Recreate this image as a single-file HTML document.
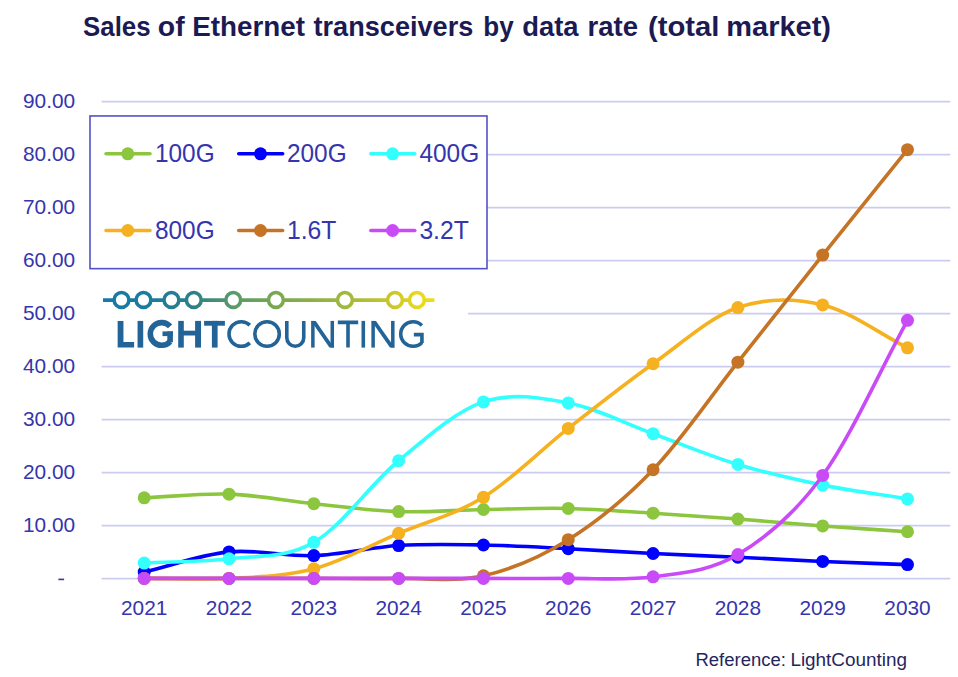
<!DOCTYPE html>
<html><head><meta charset="utf-8"><title>Sales of Ethernet transceivers by data rate</title>
<style>html,body{margin:0;padding:0;background:#fff;}body{width:958px;height:677px;overflow:hidden;font-family:"Liberation Sans",sans-serif;}svg{display:block;}text{font-family:"Liberation Sans",sans-serif;}</style>
</head><body>
<svg width="958" height="677" viewBox="0 0 958 677">
<rect width="958" height="677" fill="#ffffff"/>
<g font-weight="bold" font-size="26.8" fill="#1b1a52">
<text x="83.0" y="36" textLength="67.6" lengthAdjust="spacingAndGlyphs">Sales</text>
<text x="157.8" y="36" textLength="26.8" lengthAdjust="spacingAndGlyphs">of</text>
<text x="192.3" y="36" textLength="112.7" lengthAdjust="spacingAndGlyphs">Ethernet</text>
<text x="313.5" y="36" textLength="159.8" lengthAdjust="spacingAndGlyphs">transceivers</text>
<text x="483.3" y="36" textLength="30.4" lengthAdjust="spacingAndGlyphs">by</text>
<text x="522.2" y="36" textLength="56.4" lengthAdjust="spacingAndGlyphs">data</text>
<text x="587.5" y="36" textLength="50.5" lengthAdjust="spacingAndGlyphs">rate</text>
<text x="648.0" y="36" textLength="71.5" lengthAdjust="spacingAndGlyphs">(total</text>
<text x="726.3" y="36" textLength="104.7" lengthAdjust="spacingAndGlyphs">market)</text>
</g>
<line x1="101.6" x2="950.3" y1="578.60" y2="578.60" stroke="#ccccf1" stroke-width="1.6"/>
<line x1="101.6" x2="950.3" y1="525.60" y2="525.60" stroke="#ccccf1" stroke-width="1.6"/>
<line x1="101.6" x2="950.3" y1="472.60" y2="472.60" stroke="#ccccf1" stroke-width="1.6"/>
<line x1="101.6" x2="950.3" y1="419.60" y2="419.60" stroke="#ccccf1" stroke-width="1.6"/>
<line x1="101.6" x2="950.3" y1="366.60" y2="366.60" stroke="#ccccf1" stroke-width="1.6"/>
<line x1="101.6" x2="950.3" y1="313.60" y2="313.60" stroke="#ccccf1" stroke-width="1.6"/>
<line x1="101.6" x2="950.3" y1="260.60" y2="260.60" stroke="#ccccf1" stroke-width="1.6"/>
<line x1="101.6" x2="950.3" y1="207.60" y2="207.60" stroke="#ccccf1" stroke-width="1.6"/>
<line x1="101.6" x2="950.3" y1="154.60" y2="154.60" stroke="#ccccf1" stroke-width="1.6"/>
<line x1="101.6" x2="950.3" y1="101.60" y2="101.60" stroke="#ccccf1" stroke-width="1.6"/>
<g font-size="20.8" fill="#3535ad">
<text x="23" y="531.70" textLength="52.2" lengthAdjust="spacingAndGlyphs">10.00</text>
<text x="23" y="478.70" textLength="52.2" lengthAdjust="spacingAndGlyphs">20.00</text>
<text x="23" y="425.70" textLength="52.2" lengthAdjust="spacingAndGlyphs">30.00</text>
<text x="23" y="372.70" textLength="52.2" lengthAdjust="spacingAndGlyphs">40.00</text>
<text x="23" y="319.70" textLength="52.2" lengthAdjust="spacingAndGlyphs">50.00</text>
<text x="23" y="266.70" textLength="52.2" lengthAdjust="spacingAndGlyphs">60.00</text>
<text x="23" y="213.70" textLength="52.2" lengthAdjust="spacingAndGlyphs">70.00</text>
<text x="23" y="160.70" textLength="52.2" lengthAdjust="spacingAndGlyphs">80.00</text>
<text x="23" y="107.70" textLength="52.2" lengthAdjust="spacingAndGlyphs">90.00</text>
</g>
<rect x="58.4" y="578.6" width="5.7" height="1.6" fill="#3535ad"/>
<g font-size="20.4" fill="#3535ad" text-anchor="middle">
<text x="144.20" y="614.7" textLength="46.4" lengthAdjust="spacingAndGlyphs">2021</text>
<text x="229.01" y="614.7" textLength="46.4" lengthAdjust="spacingAndGlyphs">2022</text>
<text x="313.82" y="614.7" textLength="46.4" lengthAdjust="spacingAndGlyphs">2023</text>
<text x="398.63" y="614.7" textLength="46.4" lengthAdjust="spacingAndGlyphs">2024</text>
<text x="483.44" y="614.7" textLength="46.4" lengthAdjust="spacingAndGlyphs">2025</text>
<text x="568.25" y="614.7" textLength="46.4" lengthAdjust="spacingAndGlyphs">2026</text>
<text x="653.06" y="614.7" textLength="46.4" lengthAdjust="spacingAndGlyphs">2027</text>
<text x="737.87" y="614.7" textLength="46.4" lengthAdjust="spacingAndGlyphs">2028</text>
<text x="822.68" y="614.7" textLength="46.4" lengthAdjust="spacingAndGlyphs">2029</text>
<text x="907.49" y="614.7" textLength="46.4" lengthAdjust="spacingAndGlyphs">2030</text>
</g>
<rect x="95" y="283" width="373" height="72" fill="#ffffff"/>
<path d="M144.20 497.84 C172.47 496.60 200.74 493.16 229.01 494.13 C257.28 495.10 285.55 500.75 313.82 503.67 C342.09 506.58 370.36 510.65 398.63 511.62 C426.90 512.59 455.17 510.03 483.44 509.50 C511.71 508.97 539.98 507.82 568.25 508.44 C596.52 509.06 624.79 511.44 653.06 513.21 C681.33 514.98 709.60 516.92 737.87 519.04 C766.14 521.16 794.41 523.81 822.68 525.93 C850.95 528.05 879.22 529.82 907.49 531.76" fill="none" stroke="#8cc63f" stroke-width="3.6" stroke-linecap="round" stroke-linejoin="round"/>
<g fill="#8cc63f"><circle cx="144.20" cy="497.84" r="6.5"/><circle cx="229.01" cy="494.13" r="6.5"/><circle cx="313.82" cy="503.67" r="6.5"/><circle cx="398.63" cy="511.62" r="6.5"/><circle cx="483.44" cy="509.50" r="6.5"/><circle cx="568.25" cy="508.44" r="6.5"/><circle cx="653.06" cy="513.21" r="6.5"/><circle cx="737.87" cy="519.04" r="6.5"/><circle cx="822.68" cy="525.93" r="6.5"/><circle cx="907.49" cy="531.76" r="6.5"/></g>
<path d="M144.20 572.04 C172.47 565.33 200.74 554.64 229.01 551.90 C257.28 549.16 285.55 556.67 313.82 555.61 C342.09 554.55 370.36 547.31 398.63 545.54 C426.90 543.77 455.17 544.48 483.44 545.01 C511.71 545.54 539.98 547.31 568.25 548.72 C596.52 550.13 624.79 552.08 653.06 553.49 C681.33 554.90 709.60 555.88 737.87 557.20 C766.14 558.52 794.41 560.20 822.68 561.44 C850.95 562.68 879.22 563.56 907.49 564.62" fill="none" stroke="#0000ff" stroke-width="3.6" stroke-linecap="round" stroke-linejoin="round"/>
<g fill="#0000ff"><circle cx="144.20" cy="572.04" r="6.5"/><circle cx="229.01" cy="551.90" r="6.5"/><circle cx="313.82" cy="555.61" r="6.5"/><circle cx="398.63" cy="545.54" r="6.5"/><circle cx="483.44" cy="545.01" r="6.5"/><circle cx="568.25" cy="548.72" r="6.5"/><circle cx="653.06" cy="553.49" r="6.5"/><circle cx="737.87" cy="557.20" r="6.5"/><circle cx="822.68" cy="561.44" r="6.5"/><circle cx="907.49" cy="564.62" r="6.5"/></g>
<path d="M144.20 563.03 C172.47 561.62 200.74 562.23 229.01 558.79 C257.28 555.35 285.55 558.70 313.82 542.36 C342.09 526.02 370.36 484.15 398.63 460.74 C426.90 437.33 455.17 411.54 483.44 401.91 C511.71 392.28 539.98 397.67 568.25 402.97 C596.52 408.27 624.79 423.46 653.06 433.71 C681.33 443.96 709.60 455.88 737.87 464.45 C766.14 473.02 794.41 479.38 822.68 485.12 C850.95 490.86 879.22 494.31 907.49 498.90" fill="none" stroke="#33ffff" stroke-width="3.6" stroke-linecap="round" stroke-linejoin="round"/>
<g fill="#33ffff"><circle cx="144.20" cy="563.03" r="6.5"/><circle cx="229.01" cy="558.79" r="6.5"/><circle cx="313.82" cy="542.36" r="6.5"/><circle cx="398.63" cy="460.74" r="6.5"/><circle cx="483.44" cy="401.91" r="6.5"/><circle cx="568.25" cy="402.97" r="6.5"/><circle cx="653.06" cy="433.71" r="6.5"/><circle cx="737.87" cy="464.45" r="6.5"/><circle cx="822.68" cy="485.12" r="6.5"/><circle cx="907.49" cy="498.90" r="6.5"/></g>
<path d="M144.20 578.40 C172.47 578.40 200.74 579.99 229.01 578.40 C257.28 576.81 285.55 576.37 313.82 568.86 C342.09 561.35 370.36 545.28 398.63 533.35 C426.90 521.42 455.17 514.80 483.44 497.31 C511.71 479.82 539.98 450.67 568.25 428.41 C596.52 406.15 624.79 383.89 653.06 363.75 C681.33 343.61 709.60 317.38 737.87 307.57 C766.14 297.76 794.41 298.21 822.68 304.92 C850.95 311.63 879.22 333.54 907.49 347.85" fill="none" stroke="#f5b120" stroke-width="3.6" stroke-linecap="round" stroke-linejoin="round"/>
<g fill="#f5b120"><circle cx="144.20" cy="578.40" r="6.5"/><circle cx="229.01" cy="578.40" r="6.5"/><circle cx="313.82" cy="568.86" r="6.5"/><circle cx="398.63" cy="533.35" r="6.5"/><circle cx="483.44" cy="497.31" r="6.5"/><circle cx="568.25" cy="428.41" r="6.5"/><circle cx="653.06" cy="363.75" r="6.5"/><circle cx="737.87" cy="307.57" r="6.5"/><circle cx="822.68" cy="304.92" r="6.5"/><circle cx="907.49" cy="347.85" r="6.5"/></g>
<path d="M144.20 578.40 C172.47 578.40 200.74 578.40 229.01 578.40 C257.28 578.40 285.55 578.40 313.82 578.40 C342.09 578.40 370.36 578.84 398.63 578.40 C426.90 577.96 455.17 582.20 483.44 575.75 C511.71 569.30 539.98 557.38 568.25 539.71 C596.52 522.04 624.79 499.34 653.06 469.75 C681.33 440.16 709.60 397.93 737.87 362.16 C766.14 326.38 794.41 290.52 822.68 255.10 C850.95 219.68 879.22 184.79 907.49 149.63" fill="none" stroke="#c47424" stroke-width="3.6" stroke-linecap="round" stroke-linejoin="round"/>
<g fill="#c47424"><circle cx="144.20" cy="578.40" r="6.5"/><circle cx="229.01" cy="578.40" r="6.5"/><circle cx="313.82" cy="578.40" r="6.5"/><circle cx="398.63" cy="578.40" r="6.5"/><circle cx="483.44" cy="575.75" r="6.5"/><circle cx="568.25" cy="539.71" r="6.5"/><circle cx="653.06" cy="469.75" r="6.5"/><circle cx="737.87" cy="362.16" r="6.5"/><circle cx="822.68" cy="255.10" r="6.5"/><circle cx="907.49" cy="149.63" r="6.5"/></g>
<path d="M144.20 578.40 C172.47 578.40 200.74 578.40 229.01 578.40 C257.28 578.40 285.55 578.40 313.82 578.40 C342.09 578.40 370.36 578.40 398.63 578.40 C426.90 578.40 455.17 578.40 483.44 578.40 C511.71 578.40 539.98 578.66 568.25 578.40 C596.52 578.13 624.79 580.78 653.06 576.81 C681.33 572.83 709.60 571.44 737.87 554.55 C766.14 537.66 794.41 514.52 822.68 475.47 C850.95 436.43 879.22 372.02 907.49 320.29" fill="none" stroke="#c94bf7" stroke-width="3.6" stroke-linecap="round" stroke-linejoin="round"/>
<g fill="#c94bf7"><circle cx="144.20" cy="578.40" r="6.5"/><circle cx="229.01" cy="578.40" r="6.5"/><circle cx="313.82" cy="578.40" r="6.5"/><circle cx="398.63" cy="578.40" r="6.5"/><circle cx="483.44" cy="578.40" r="6.5"/><circle cx="568.25" cy="578.40" r="6.5"/><circle cx="653.06" cy="576.81" r="6.5"/><circle cx="737.87" cy="554.55" r="6.5"/><circle cx="822.68" cy="475.47" r="6.5"/><circle cx="907.49" cy="320.29" r="6.5"/></g>
<rect x="90.0" y="115.95" width="397.0" height="152.7" fill="#ffffff" stroke="#5252c6" stroke-width="1.6"/>
<g font-size="25.6" fill="#3535ad">
<line x1="106.0" x2="150.0" y1="153.8" y2="153.8" stroke="#8cc63f" stroke-width="3.5" stroke-linecap="round"/>
<circle cx="127.8" cy="153.8" r="6.5" fill="#8cc63f"/>
<text x="155.0" y="162.4" textLength="59.6" lengthAdjust="spacingAndGlyphs">100G</text>
<line x1="238.7" x2="282.7" y1="153.8" y2="153.8" stroke="#0000ff" stroke-width="3.5" stroke-linecap="round"/>
<circle cx="260.5" cy="153.8" r="6.5" fill="#0000ff"/>
<text x="287.0" y="162.4" textLength="59.6" lengthAdjust="spacingAndGlyphs">200G</text>
<line x1="370.8" x2="414.8" y1="153.8" y2="153.8" stroke="#33ffff" stroke-width="3.5" stroke-linecap="round"/>
<circle cx="392.6" cy="153.8" r="6.5" fill="#33ffff"/>
<text x="419.4" y="162.4" textLength="59.8" lengthAdjust="spacingAndGlyphs">400G</text>
<line x1="106.0" x2="150.0" y1="230.5" y2="230.5" stroke="#f5b120" stroke-width="3.5" stroke-linecap="round"/>
<circle cx="127.8" cy="230.5" r="6.5" fill="#f5b120"/>
<text x="155.0" y="239.1" textLength="59.6" lengthAdjust="spacingAndGlyphs">800G</text>
<line x1="238.7" x2="282.7" y1="230.5" y2="230.5" stroke="#c47424" stroke-width="3.5" stroke-linecap="round"/>
<circle cx="260.5" cy="230.5" r="6.5" fill="#c47424"/>
<text x="287.0" y="239.1" textLength="49.4" lengthAdjust="spacingAndGlyphs">1.6T</text>
<line x1="370.8" x2="414.8" y1="230.5" y2="230.5" stroke="#c94bf7" stroke-width="3.5" stroke-linecap="round"/>
<circle cx="392.6" cy="230.5" r="6.5" fill="#c94bf7"/>
<text x="419.4" y="239.1" textLength="49.4" lengthAdjust="spacingAndGlyphs">3.2T</text>
</g>
<defs><linearGradient id="lg" gradientUnits="userSpaceOnUse" x1="103" y1="0" x2="434.5" y2="0">
<stop offset="0.0000" stop-color="#1878a8"/>
<stop offset="0.1267" stop-color="#187c9e"/>
<stop offset="0.2745" stop-color="#2c8088"/>
<stop offset="0.3922" stop-color="#5a9a68"/>
<stop offset="0.5219" stop-color="#78a850"/>
<stop offset="0.7300" stop-color="#a0b83c"/>
<stop offset="0.8808" stop-color="#ccc828"/>
<stop offset="0.9472" stop-color="#e8d81c"/>
<stop offset="1.0000" stop-color="#f0dc18"/>
</linearGradient></defs>
<line x1="103" x2="434.4" y1="300.15" y2="300.15" stroke="url(#lg)" stroke-width="3.6"/>
<g fill="#ffffff" stroke="url(#lg)" stroke-width="3.55"><circle cx="121.50" cy="299.95" r="7.42"/><circle cx="143.50" cy="299.95" r="7.42"/><circle cx="171.44" cy="299.95" r="7.42"/><circle cx="193.80" cy="299.95" r="7.42"/><circle cx="233.25" cy="299.95" r="7.42"/><circle cx="275.90" cy="299.95" r="7.42"/><circle cx="344.94" cy="299.95" r="7.42"/><circle cx="395.00" cy="299.95" r="7.42"/><circle cx="416.90" cy="299.95" r="7.42"/></g>
<g fill="#226497">
<path d="M117.65 320.90 h5.8 v21.20 h10.65 v5.5 h-16.45 z"/>
<rect x="137.56" y="320.90" width="5.64" height="26.70"/>
<rect x="178.2" y="320.90" width="5.6" height="26.70"/><rect x="195.1" y="320.90" width="5.9" height="26.70"/><rect x="183" y="330.7" width="13" height="4.8"/>
<rect x="204.1" y="320.90" width="20.8" height="4.8"/><rect x="211.9" y="320.90" width="5.7" height="26.70"/>
</g>
<g fill="none" stroke="#226497" stroke-width="5.60">
<path d="M170.08 326.36 A11.35 11.35 0 1 0 170.10 341.53"/>
<path d="M170.10 342.33 V331.4"/>
<rect x="162.5" y="331.4" width="10.4" height="4.7" fill="#226497" stroke="none"/>
</g>
<g fill="none" stroke="#226497" stroke-width="3.60">
<path d="M249.84 325.15 A12.30 12.30 0 1 0 249.84 342.85"/>
<circle cx="267.05" cy="334.0" r="12.25"/>
<path d="M286.80 320.90 V337.79 A8.47 8.47 0 0 0 303.75 337.79 V320.90"/>
<g fill="#226497" stroke="none"><rect x="311.13" y="320.90" width="3.50" height="26.70"/><rect x="330.53" y="320.90" width="3.50" height="26.70"/><polygon points="311.13,320.90 315.73,320.90 334.03,347.60 329.43,347.60"/></g>
<path d="M337.83 322.40 H358.18 M348 320.90 V347.60"/>
<path d="M363.29 320.90 V347.60"/>
<g fill="#226497" stroke="none"><rect x="371.38" y="320.90" width="3.50" height="26.70"/><rect x="391.05" y="320.90" width="3.50" height="26.70"/><polygon points="371.38,320.90 375.98,320.90 394.55,347.60 389.95,347.60"/></g>
<path d="M421.88 325.46 A12.30 12.30 0 1 0 421.94 342.48"/>
<path d="M421.94 343.08 V334.6 H413.84"/>
</g>
<g font-size="17.5" fill="#25255c">
<text x="695.5" y="665.9" textLength="90.4" lengthAdjust="spacingAndGlyphs">Reference:</text>
<text x="790.4" y="665.9" textLength="116.6" lengthAdjust="spacingAndGlyphs">LightCounting</text>
</g>
</svg></body></html>
